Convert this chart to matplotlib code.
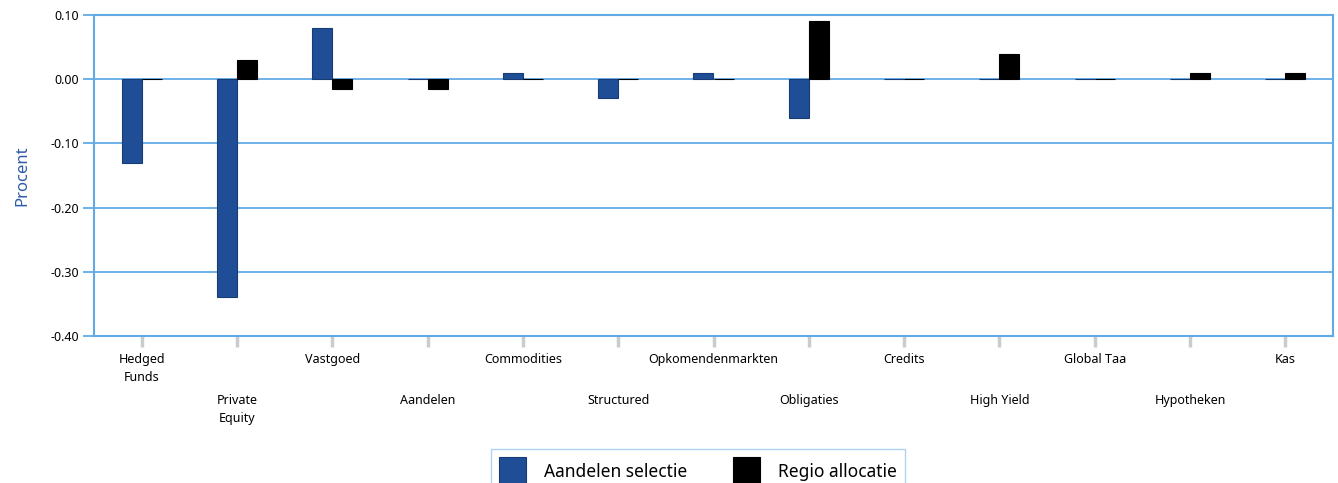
import matplotlib
matplotlib.use("Agg")
import matplotlib.pyplot as plt
import numpy as np

categories = ["Hedged\nFunds", "Private\nEquity", "Vastgoed", "Aandelen", "Commodities",
              "Structured", "Opkomendenmarkten", "Obligaties", "Credits", "High Yield",
              "Global Taa", "Hypotheken", "Kas"]
aandelen_selectie = [-0.13, -0.34, 0.08, 0.0, 0.01, -0.03, 0.01, -0.06, 0.0, 0.0, 0.0, 0.0, 0.0]
regio_allocatie = [0.0, 0.03, -0.015, -0.015, 0.0, 0.0, 0.0, 0.09, 0.0, 0.04, 0.0, 0.01, 0.01]
series_names = ["Aandelen selectie", "Regio allocatie"]
yticks = [0.10, 0.00, -0.10, -0.20, -0.30, -0.40]

plt.rcParams['font.family'] = ['Noto Sans', 'DejaVu Sans']

fig = plt.figure(figsize=(13.38, 4.83), dpi=100)
ax = fig.add_axes([94/1338, 1-336/483, (1333-94)/1338, (336-15)/483])

grid_c = "#62AAE6"
blue = "#1F4E96"
x = np.arange(len(categories))
w = 0.21
ax.bar(x - w/2, aandelen_selectie, width=w, color=blue, edgecolor="#173C75", linewidth=0.8,
       label=series_names[0], zorder=3)
ax.bar(x + w/2, regio_allocatie, width=w, color="black", edgecolor="black", linewidth=0.8,
       label=series_names[1], zorder=3)

ax.set_xlim(-0.5, len(categories) - 0.5)
ax.set_ylim(-0.40, 0.10)
ax.set_yticks(yticks)
ax.set_yticklabels([f"{v:.2f}" for v in yticks], fontsize=9)
ax.yaxis.grid(True, color=grid_c, linewidth=1.3, zorder=0)
ax.set_axisbelow(True)
ax.tick_params(axis='y', direction='out', length=8, width=1.3, color=grid_c, pad=3)

ax.set_xticks(x)
ax.set_xticklabels(categories, fontsize=9, linespacing=1.5)
ax.tick_params(axis='x', direction='out', length=8, width=2.5, color="#C8CCD0", pad=4)
for i, t in enumerate(ax.xaxis.get_major_ticks()):
    if i % 2 == 1:
        t.set_pad(4 + 41 * 0.72)

for s in ax.spines.values():
    s.set_color(grid_c)
    s.set_linewidth(1.5)

ax.set_ylabel("Procent", color="#2F5BA8", fontsize=12, labelpad=14)

handles, labels = ax.get_legend_handles_labels()
leg = fig.legend(handles, labels, loc='upper center', bbox_to_anchor=(698/1338, 1-449/483),
                 ncol=2, fontsize=12.5, frameon=True, fancybox=False, edgecolor="#9CC8EE",
                 handlelength=1.55, handleheight=2.2, columnspacing=2.6, handletextpad=1.05,
                 borderpad=0.45, borderaxespad=0)
leg.get_frame().set_linewidth(1.0)

fig.savefig("out.png", dpi=100)
